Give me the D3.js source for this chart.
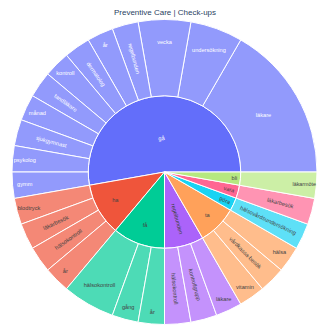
<!DOCTYPE html>
<html>
<head>
<meta charset="utf-8">
<script src="https://cdn.jsdelivr.net/npm/d3@7"></script>
<style>
  html, body { margin: 0; padding: 0; background: #fff; }
  svg { display: block; }
</style>
</head>
<body>
<svg width="330" height="330"></svg>
<script>
// Preventive Care | Check-ups  -  verb -> word sunburst

const verbs = ["gå", "ha", "få", "regelbunden", "ta", "göra", "vara", "bli"];
const verbColors = ["#636efa", "#EF553B", "#00cc96", "#ab63fa", "#FFA15A", "#19d3f3", "#FF6692", "#B6E880"];

const words = [
    "läkare", "undersökning", "vecka", "regelbunden", "år", "dermatolog", "kontroll",
    "tandläkare", "månad", "sjukgymnast", "psykolog", "gymm",
    "blodtryck", "läkarbesök", "hälsokontroll", "år",
    "hälsokontroll", "gång", "år",
    "hälsokontroll", "kontrollgrupp", "läkare",
    "vitamin", "vårdkassa-besök", "hälsa",
    "hälsovårdsundersökning",
    "läkarbesök",
    "läkarmöte"
];
const wordParents = [
    "gå", "gå", "gå", "gå", "gå", "gå", "gå", "gå", "gå", "gå", "gå", "gå",
    "ha", "ha", "ha", "ha",
    "få", "få", "få",
    "regelbunden", "regelbunden", "regelbunden",
    "ta", "ta", "ta",
    "göra",
    "vara",
    "bli"
];
const wordValues = [
    6, 2, 2, 1, 1, 1, 1, 1, 1, 1, 1, 1,
    1, 1, 1, 1,
    2, 1, 1,
    1, 1, 1,
    1, 1, 1,
    1,
    1,
    1
];

const title = "Preventive Care | Check-ups";

const width = 330, height = 330;
const cx = 164.5, cy = 172, R = 152.5;
const fontFamily = "'Liberation Sans', Arial, sans-serif";
const fontSize = 5.65;     // drawn size
const fitSize = 5.2;       // size used when choosing the text orientation
const textPad = 3;
// inner labels that are laid along the radius in the original
const radialInner = new Set(["regelbunden"]);

const svg = d3.select("svg");

svg.append("text")
    .attr("x", width / 2)
    .attr("y", 15)
    .attr("text-anchor", "middle")
    .attr("font-family", fontFamily)
    .attr("font-size", 8)
    .attr("fill", "#2a3f5f")
    .text(title);

// build the tree from the flat arrays
const tree = {
    name: "root",
    children: verbs.map((v, i) => ({
        name: v,
        color: verbColors[i],
        children: words
            .map((w, j) => ({ name: w, parent: wordParents[j], value: wordValues[j] }))
            .filter(d => d.parent === v)
    }))
};

const root = d3.hierarchy(tree)
    .sum(d => d.value || 0)
    .sort((a, b) => b.value - a.value);

d3.partition().size([2 * Math.PI, 3])(root);

const rScale = d3.scaleLinear().domain([1, 3]).range([0, R]);

const arc = d3.arc()
    .startAngle(d => Math.PI / 2 - d.x1)
    .endAngle(d => Math.PI / 2 - d.x0)
    .innerRadius(d => rScale(d.y0))
    .outerRadius(d => rScale(d.y1));

const nodes = root.descendants().filter(d => d.depth > 0);

function baseColor(d) {
    return d.depth === 1 ? d.data.color : d.parent.data.color;
}

function fillColor(d) {
    const c = baseColor(d);
    return d.depth === 1 ? c : d3.interpolateRgb("#ffffff", c)(0.7);
}

function textColor(d) {
    const c = d3.rgb(baseColor(d));
    const brightness = (c.r * 299 + c.g * 587 + c.b * 114) / 1000;
    return brightness < 128 ? "#ffffff" : "#444444";
}

const g = svg.append("g").attr("transform", `translate(${cx},${cy})`);

g.append("g")
    .selectAll("path")
    .data(nodes)
    .enter().append("path")
    .attr("d", arc)
    .attr("fill", fillColor)
    .attr("stroke", "#ffffff")
    .attr("stroke-width", 1);

// ---- text placement, same idea as plotly's insidetextorientation 'auto'

function angleDelta(a, b) {
    const d = b - a;
    return Math.atan2(Math.sin(d), Math.cos(d));
}

function calcMaxHalfSize(a, halfAngle, r, ring) {
    const q = a + 1 / (2 * Math.tan(halfAngle));
    return r * Math.min(
        1 / (Math.sqrt(q * q + 0.5) + q),
        ring / (Math.sqrt(a * a + ring / 2) + a)
    );
}

function norm180(deg) {
    return (((deg + 90) % 180) + 180) % 180 - 90;
}

function pickTransform(w, h, d) {
    const rpx0 = rScale(d.y0), rpx1 = rScale(d.y1);
    const ring = 1 - rpx0 / rpx1;
    const halfAngle = 0.5 * Math.min(angleDelta(d.x0, d.x1) || Math.PI, Math.PI);
    const mid = (d.x0 + d.x1) / 2;
    const midDeg = mid * 180 / Math.PI;
    const rInscribed = Math.max(0, Math.min(1 / (1 + 1 / Math.sin(halfAngle)), ring / 2));
    const r = Math.max(0, rpx1 - 2 * textPad);

    const radial = () => {
        const a = w / h;
        const s = calcMaxHalfSize(a, halfAngle, r, ring);
        return { scale: s * 2 / h, rCenter: Math.cos(s / r) - a * s / r, rotate: norm180(-midDeg) };
    };
    if (d.depth === 1 && radialInner.has(d.data.name)) {
        return Object.assign(radial(), { rpx1, mid });
    }

    const all = [];
    const diag = Math.sqrt(w * w + h * h);
    const horiz = { scale: rInscribed * rpx1 * 2 / diag, rCenter: 1 - rInscribed, rotate: 0 };
    if (horiz.scale >= 1) return Object.assign(horiz, { rpx1, mid });
    all.push(horiz);

    all.push(radial());

    const a = h / w;
    const s = calcMaxHalfSize(a, halfAngle, r, ring);
    all.push({ scale: s * 2 / w, rCenter: Math.cos(s / r) - a * s / r, rotate: norm180(-midDeg + 90) });

    let best = all[0];
    all.forEach(t => { if (t.scale > best.scale) best = t; });
    return Object.assign(best, { rpx1, mid });
}

const labels = g.append("g")
    .selectAll("text")
    .data(nodes)
    .enter().append("text")
    .attr("text-anchor", "middle")
    .attr("font-family", fontFamily)
    .attr("font-size", fontSize)
    .attr("fill", textColor)
    .text(d => d.data.name);

labels.each(function(d) {
    const bb = this.getBBox();
    const k = fitSize / fontSize;
    // line box height taken as ~1.15em for the fit test
    const t = pickTransform(bb.width * k, fitSize * 1.15, d);
    const s = Math.min(1, t.scale * fitSize / fontSize);
    const rc = t.rCenter * t.rpx1;
    const x = rc * Math.cos(t.mid);
    const y = -rc * Math.sin(t.mid);
    d3.select(this)
        .attr("y", -(bb.y + bb.height / 2))
        .attr("transform", `translate(${x},${y}) rotate(${t.rotate}) scale(${s})`);
});
</script>
</body>
</html>
